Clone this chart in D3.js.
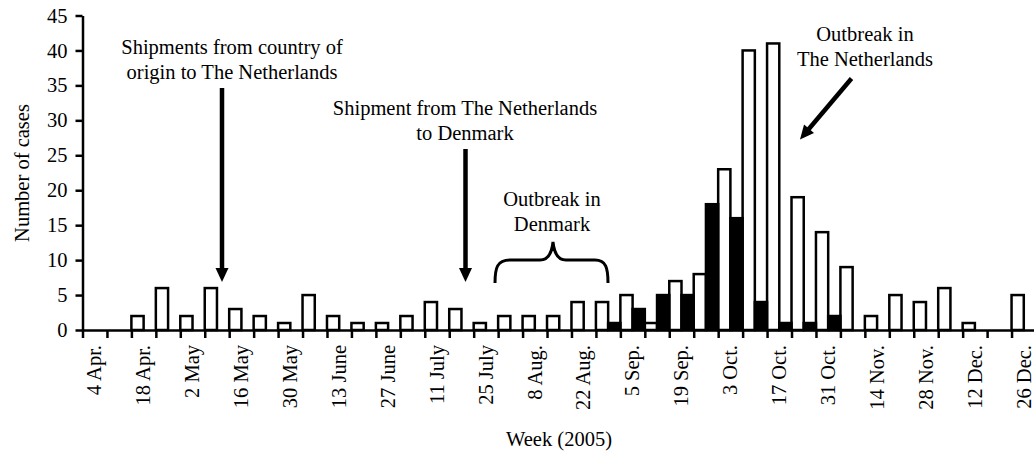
<!DOCTYPE html>
<html>
<head>
<meta charset="utf-8">
<script src="https://cdn.jsdelivr.net/npm/d3@7"></script>
<style>
    html, body {
        margin: 0;
        padding: 0;
        background: #fff;
    }
    svg text {
        font-family: "Liberation Serif", "Times New Roman", serif;
        font-size: 20.5px;
        fill: #000;
    }
</style>
</head>
<body>
<svg id="chart" width="1034" height="451"></svg>
<script>
// weekly categories (week starting on)
const weeks = ["4 Apr.", "11 Apr.", "18 Apr.", "25 Apr.", "2 May", "9 May", "16 May", "23 May",
    "30 May", "6 June", "13 June", "20 June", "27 June", "4 July", "11 July", "18 July",
    "25 July", "1 Aug.", "8 Aug.", "15 Aug.", "22 Aug.", "29 Aug.", "5 Sep.", "12 Sep.",
    "19 Sep.", "26 Sep.", "3 Oct.", "10 Oct.", "17 Oct.", "24 Oct.", "31 Oct.", "7 Nov.",
    "14 Nov.", "21 Nov.", "28 Nov.", "5 Dec.", "12 Dec.", "19 Dec.", "26 Dec."];

// open (white) bars
const openCases = [0, 0, 2, 6, 2, 6, 3, 2, 1, 5, 2, 1, 1, 2, 4, 3, 1, 2, 2, 2,
    4, 4, 5, 1, 7, 8, 23, 40, 41, 19, 14, 9, 2, 5, 4, 6, 1, 0, 5];

// filled (black) bars
const filledCases = [0, 0, 0, 0, 0, 0, 0, 0, 0, 0, 0, 0, 0, 0, 0, 0, 0, 0, 0, 0,
    0, 1, 3, 5, 5, 18, 16, 4, 1, 1, 2, 0, 0, 0, 0, 0, 0, 0, 0];

const yTicks = [0, 5, 10, 15, 20, 25, 30, 35, 40, 45];
const tickLabels = weeks.filter((w, i) => i % 2 === 0);

const svg = d3.select("#chart");

const x = d3.scaleBand().domain(weeks).range([82.5, 1036]).paddingInner(0).paddingOuter(0);
const edge = d3.scaleLinear().domain([0, weeks.length]).range(x.range());
const y = d3.scaleLinear().domain([0, 45]).range([330, 15.5]);

const half = x.bandwidth() / 2;

// bars
const bars = svg.append("g").attr("stroke", "#000").attr("stroke-width", 2.5);

bars.selectAll("rect.open").data(weeks.map((w, i) => ({ w, v: openCases[i] })).filter(d => d.v > 0))
    .join("rect").attr("class", "open")
    .attr("x", d => x(d.w))
    .attr("y", d => y(d.v))
    .attr("width", half)
    .attr("height", d => y(0) - y(d.v))
    .attr("fill", "#fff");

bars.selectAll("rect.filled").data(weeks.map((w, i) => ({ w, v: filledCases[i] })).filter(d => d.v > 0))
    .join("rect").attr("class", "filled")
    .attr("x", d => x(d.w) + half)
    .attr("y", d => y(d.v))
    .attr("width", half)
    .attr("height", d => y(0) - y(d.v))
    .attr("fill", "#000");

// y axis
const yAxis = svg.append("g").attr("transform", "translate(82.5,0)")
    .call(d3.axisLeft(y).tickValues(yTicks).tickSize(7).tickSizeOuter(0).tickPadding(8));
yAxis.selectAll("line, path").attr("stroke", "#000").attr("stroke-width", 2.5);
yAxis.selectAll("text").attr("font-size", null).attr("font-family", null);

// x axis: ticks between weeks
const xAxis = svg.append("g").attr("transform", "translate(0,330)")
    .call(d3.axisBottom(edge).tickValues(d3.range(weeks.length + 1)).tickSize(8).tickSizeOuter(0).tickFormat(""));
xAxis.selectAll("line, path").attr("stroke", "#000").attr("stroke-width", 2.5);

// x labels, every second week
const xLabels = svg.append("g").attr("transform", "translate(0,330)")
    .call(d3.axisBottom(x).tickValues(tickLabels).tickSize(0));
xLabels.select(".domain").remove();
xLabels.selectAll("text")
    .attr("font-size", null).attr("font-family", null)
    .attr("transform", "rotate(-90)")
    .attr("text-anchor", "end")
    .attr("x", -15)
    .attr("y", 0)
    .attr("dy", "0.33em");

// axis titles
svg.append("text").attr("transform", "translate(29,173) rotate(-90)")
    .attr("text-anchor", "middle").text("Number of cases");
svg.append("text").attr("x", 559).attr("y", 446)
    .attr("text-anchor", "middle").text("Week (2005)");

// annotations
function lines(cx, y0, arr) {
    const t = svg.append("text").attr("text-anchor", "middle");
    arr.forEach((s, i) => t.append("tspan").attr("x", cx).attr("y", y0 + i * 25).text(s));
}

function arrow(x1, y1, x2, y2) {
    const len = Math.hypot(x2 - x1, y2 - y1);
    const ux = (x2 - x1) / len, uy = (y2 - y1) / len;
    const hl = 14, hw = 6.5;
    const bx = x2 - ux * hl, by = y2 - uy * hl;
    svg.append("line")
        .attr("x1", x1).attr("y1", y1).attr("x2", bx + ux).attr("y2", by + uy)
        .attr("stroke", "#000").attr("stroke-width", 4.5);
    svg.append("path")
        .attr("d", `M${x2},${y2}L${bx - uy * hw},${by + ux * hw}L${bx + uy * hw},${by - ux * hw}Z`)
        .attr("fill", "#000");
}

lines(232, 54, ["Shipments from country of", "origin to The Netherlands"]);
arrow(222, 88, 222, 282);

lines(465, 115, ["Shipment from The Netherlands", "to Denmark"]);
arrow(465.5, 149, 465.5, 282);

lines(552, 205.5, ["Outbreak in", "Denmark"]);
svg.append("path")
    .attr("d", "M495,283C495,268 497,260 510,260L540,260C548,260 552,252 553,242C554,252 558,260 566,260L595,260C606,260 608,268 608,283")
    .attr("fill", "none").attr("stroke", "#000").attr("stroke-width", 3);

lines(865, 41, ["Outbreak in", "The Netherlands"]);
arrow(851.5, 78.5, 800, 139.5);
</script>
</body>
</html>
